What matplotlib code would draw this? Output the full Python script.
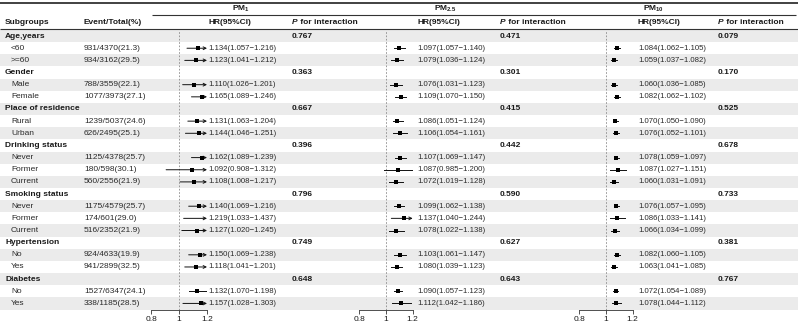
import matplotlib
matplotlib.use("Agg")
import matplotlib.pyplot as plt

plt.rcParams['font.family'] = ['Liberation Sans', 'DejaVu Sans']
plt.rcParams['mathtext.fontset'] = 'custom'
plt.rcParams['mathtext.rm'] = 'Liberation Sans'
plt.rcParams['mathtext.bf'] = 'Liberation Sans:bold'

# ---------------- data ----------------
groups = ["Age,years", "Gender", "Place of residence", "Drinking status",
          "Smoking status", "Hypertension", "Diabetes"]
subgroups = [["<60", ">=60"], ["Male", "Female"], ["Rural", "Urban"],
             ["Never", "Former", "Current"], ["Never", "Former", "Current"],
             ["No", "Yes"], ["No", "Yes"]]
events = ["931/4370(21.3)", "934/3162(29.5)", "788/3559(22.1)", "1077/3973(27.1)",
          "1239/5037(24.6)", "626/2495(25.1)", "1125/4378(25.7)", "180/598(30.1)",
          "560/2556(21.9)", "1175/4579(25.7)", "174/601(29.0)", "516/2352(21.9)",
          "924/4633(19.9)", "941/2899(32.5)", "1527/6347(24.1)", "338/1185(28.5)"]

pm1_hr = [1.134, 1.123, 1.110, 1.165, 1.131, 1.144, 1.162, 1.092, 1.108, 1.140, 1.219, 1.127, 1.150, 1.118, 1.132, 1.157]
pm1_lo = [1.057, 1.041, 1.026, 1.089, 1.063, 1.046, 1.089, 0.908, 1.008, 1.069, 1.033, 1.020, 1.069, 1.041, 1.070, 1.028]
pm1_hi = [1.216, 1.212, 1.201, 1.246, 1.204, 1.251, 1.239, 1.312, 1.217, 1.216, 1.437, 1.245, 1.238, 1.201, 1.198, 1.303]
pm1_p = ["0.767", "0.363", "0.667", "0.396", "0.796", "0.749", "0.648"]

pm25_hr = [1.097, 1.079, 1.076, 1.109, 1.086, 1.106, 1.107, 1.087, 1.072, 1.099, 1.137, 1.078, 1.103, 1.080, 1.090, 1.112]
pm25_lo = [1.057, 1.036, 1.031, 1.070, 1.051, 1.054, 1.069, 0.985, 1.019, 1.062, 1.040, 1.022, 1.061, 1.039, 1.057, 1.042]
pm25_hi = [1.140, 1.124, 1.123, 1.150, 1.124, 1.161, 1.147, 1.200, 1.128, 1.138, 1.244, 1.138, 1.147, 1.123, 1.123, 1.186]
pm25_p = ["0.471", "0.301", "0.415", "0.442", "0.590", "0.627", "0.643"]

pm10_hr = [1.084, 1.059, 1.060, 1.082, 1.070, 1.076, 1.078, 1.087, 1.060, 1.076, 1.086, 1.066, 1.082, 1.063, 1.072, 1.078]
pm10_lo = [1.062, 1.037, 1.036, 1.062, 1.050, 1.052, 1.059, 1.027, 1.031, 1.057, 1.033, 1.034, 1.060, 1.041, 1.054, 1.044]
pm10_hi = [1.105, 1.082, 1.085, 1.102, 1.090, 1.101, 1.097, 1.151, 1.091, 1.095, 1.141, 1.099, 1.105, 1.085, 1.089, 1.112]
pm10_p = ["0.079", "0.170", "0.525", "0.678", "0.733", "0.381", "0.767"]

xticks = [0.8, 1, 1.2]
xtick_labels = ["0.8", "1", "1.2"]

# ---------------- layout ----------------
W, H = 798, 325
fig = plt.figure(figsize=(W / 100, H / 100), dpi=100)
bg = fig.add_axes([0, 0, 1, 1])
bg.set_xlim(0, W)
bg.set_ylim(H, 0)
bg.axis('off')
renderer = fig.canvas.get_renderer()

row_top = 30.0
row_bot = 309.5
n_rows = sum(1 + len(s) for s in subgroups)
rh = (row_bot - row_top) / n_rows

def ypix(i):
    return row_top + (i + 0.5) * rh

FS = 6.0
FS_CI = 5.6
TXT = '#1a1a1a'
TXT2 = '#2a2a2a'

# background bands
for i in range(n_rows):
    if i % 2 == 0:
        bg.axhspan(row_top + i * rh, row_top + (i + 1) * rh, color='#ebebeb', lw=0, zorder=0)

# header lines
bg.plot([0, W], [3, 3], color='#333333', lw=1.3, solid_capstyle='butt')
bg.plot([152, W - 2], [14.5, 14.5], color='#333333', lw=0.8, solid_capstyle='butt')
bg.plot([0, W], [29.3, 29.3], color='#333333', lw=0.8, solid_capstyle='butt')

# top headers
bg.text(241, 8.5, r"PM$_{\mathbf{1}}$", ha='center', va='center', fontsize=FS, weight='bold', color=TXT)
bg.text(445, 8.5, r"PM$_{\mathbf{2.5}}$", ha='center', va='center', fontsize=FS, weight='bold', color=TXT)
bg.text(654, 8.5, r"PM$_{\mathbf{10}}$", ha='center', va='center', fontsize=FS, weight='bold', color=TXT)

hy = 22.5
bg.text(5, hy, "Subgroups", ha='left', va='center', fontsize=FS, weight='bold', color=TXT)
bg.text(84, hy, "Event/Total(%)", ha='left', va='center', fontsize=FS, weight='bold', color=TXT)

panels = [
    dict(hr=pm1_hr, lo=pm1_lo, hi=pm1_hi, p=pm1_p, x0=151.0, x1=207.0, tx=208.5, px=292.0),
    dict(hr=pm25_hr, lo=pm25_lo, hi=pm25_hi, p=pm25_p, x0=359.3, x1=412.7, tx=417.0, px=500.0),
    dict(hr=pm10_hr, lo=pm10_lo, hi=pm10_hi, p=pm10_p, x0=579.3, x1=632.7, tx=638.0, px=718.0),
]

for pn in panels:
    bg.text(pn['tx'], hy, "HR(95%CI)", ha='left', va='center', fontsize=FS, weight='bold', color=TXT)
    tP = bg.text(pn['px'], hy, "P", ha='left', va='center', fontsize=FS, weight='bold',
                 style='italic', color=TXT)
    wpx = tP.get_window_extent(renderer=renderer).width
    bg.text(pn['px'] + wpx, hy, " for interaction", ha='left', va='center', fontsize=FS,
            weight='bold', color=TXT)

# table body
row = 0
k = 0
group_rows = []
sub_rows = []
for g, subs in zip(groups, subgroups):
    bg.text(5, ypix(row), g, ha='left', va='center', fontsize=FS, weight='bold', color=TXT)
    group_rows.append(row)
    row += 1
    for s in subs:
        bg.text(11, ypix(row), s, ha='left', va='center', fontsize=FS, color=TXT2)
        bg.text(84, ypix(row), events[k], ha='left', va='center', fontsize=FS, color=TXT2)
        sub_rows.append(row)
        row += 1
        k += 1

for pn in panels:
    for gi, r in enumerate(group_rows):
        bg.text(pn['px'], ypix(r), pn['p'][gi], ha='left', va='center', fontsize=FS,
                weight='bold', color=TXT)
    for j, r in enumerate(sub_rows):
        lab = f"{pn['hr'][j]:.3f}({pn['lo'][j]:.3f}\u2212{pn['hi'][j]:.3f})"
        bg.text(pn['tx'], ypix(r), lab, ha='left', va='center', fontsize=FS_CI, color=TXT2)

    # forest axes
    ax = fig.add_axes([pn['x0'] / W, 1 - row_bot / H, (pn['x1'] - pn['x0']) / W, (row_bot - row_top) / H])
    ax.patch.set_alpha(0)
    ax.set_xlim(xticks[0], xticks[-1])
    ax.set_ylim(n_rows - 0.5, -0.5)
    for sp in ['top', 'right', 'left']:
        ax.spines[sp].set_visible(False)
    ax.spines['bottom'].set_linewidth(0.6)
    ax.spines['bottom'].set_color('#333333')
    ax.set_yticks([])
    ax.set_xticks(xticks)
    ax.set_xticklabels(xtick_labels)
    ax.tick_params(axis='x', length=3, width=0.6, color='#333333', labelsize=FS, pad=1.5, labelcolor=TXT)
    ax.axvline(1, color='#888888', lw=0.6, ls=(0, (2, 2)), zorder=1)
    xmin, xmax = xticks[0], xticks[-1]
    for j, r in enumerate(sub_rows):
        lo, hi, hr = pn['lo'][j], pn['hi'][j], pn['hr'][j]
        lo_c = max(lo, xmin)
        if hi > xmax:
            ax.annotate('', xy=(xmax, r), xytext=(lo_c, r),
                        arrowprops=dict(arrowstyle='->', lw=0.7, color='#111111',
                                        mutation_scale=5, shrinkA=0, shrinkB=0),
                        annotation_clip=False)
        else:
            ax.plot([lo_c, hi], [r, r], color='#111111', lw=0.7, zorder=2)
        if xmin <= hr <= xmax:
            ax.plot([hr], [r], marker='s', ms=2.6, mew=0, color='#000000', zorder=3, clip_on=False)

fig.savefig("out.png", dpi=100)
